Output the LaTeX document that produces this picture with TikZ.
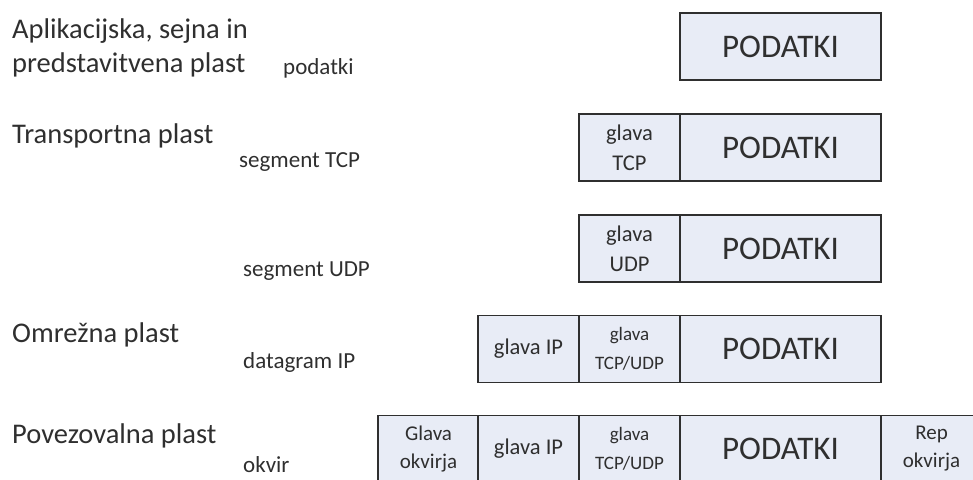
\documentclass[tikz,border=0pt]{standalone}
\usepackage{fontspec}
\setmainfont{Carlito}
\definecolor{cellfill}{HTML}{E8ECF6}
\definecolor{ink}{HTML}{2F2F2F}
\tikzset{
  cell/.style={draw=ink, line width=1.3pt, fill=cellfill, rectangle,
    minimum height=67pt, outer sep=0pt, inner sep=0pt, align=center,
    text=ink},
  narrow/.style={cell, minimum width=101pt, font=\fontsize{22.5}{30}\selectfont},
  narrowmid/.style={narrow, font=\fontsize{19}{29}\selectfont},
  framepart/.style={narrow, font=\fontsize{21}{28}\selectfont},
  wide/.style={cell, minimum width=201pt, font=\fontsize{33}{38}\selectfont},
  layer/.style={anchor=base west, inner sep=0pt, text=ink,
    font=\fontsize{28.5}{34}\selectfont, align=left},
  unit/.style={anchor=base west, inner sep=0pt, text=ink,
    font=\fontsize{23}{27}\selectfont}
}
\begin{document}
\begin{tikzpicture}[x=1pt, y=-1pt]
\useasboundingbox (0,0) rectangle (973,479);
\clip (0,0) rectangle (973,479);

% layer names and unit names
\node[layer] (lapp) at (12,38) {Aplikacijska, sejna in};
\node[layer] (lapp2) at (12,72) {predstavitvena plast};
\node[unit] (uapp) at (283,74) {podatki};
\node[layer] (ltr) at (12,143) {Transportna plast};
\node[unit] (utcp) at (239,167) {segment TCP};
\node[unit] (uudp) at (243,276) {segment UDP};
\node[layer] (lnet) at (12,342) {Omrežna plast};
\node[unit] (uip) at (243,368) {datagram IP};
\node[layer] (llink) at (12,443) {Povezovalna plast};
\node[unit] (ufr) at (243,472) {okvir};

% application data
\node[wide] (d1) at (780.5,46.5) {PODATKI};

% TCP segment
\node[narrow] (h2) at (629.5,147.5) {glava\\TCP};
\node[wide] (d2) at (780.5,147.5) {PODATKI};

% UDP segment
\node[narrow] (h3) at (629.5,248.5) {glava\\UDP};
\node[wide] (d3) at (780.5,248.5) {PODATKI};

% IP datagram
\node[narrow] (ip4) at (528.5,349) {glava IP};
\node[narrowmid] (h4) at (629.5,349) {glava\\TCP/UDP};
\node[wide] (d4) at (780.5,349) {PODATKI};

% link-layer frame (runs past the bottom and right edges)
\node[framepart] (fh5) at (428.5,449) {Glava\\okvirja};
\node[narrow] (ip5) at (528.5,449) {glava IP};
\node[narrowmid] (h5) at (629.5,449) {glava\\TCP/UDP};
\node[wide] (d5) at (780.5,449) {PODATKI};
\node[framepart] (ft5) at (931.5,449) {Rep\\okvirja};
\end{tikzpicture}
\end{document}
